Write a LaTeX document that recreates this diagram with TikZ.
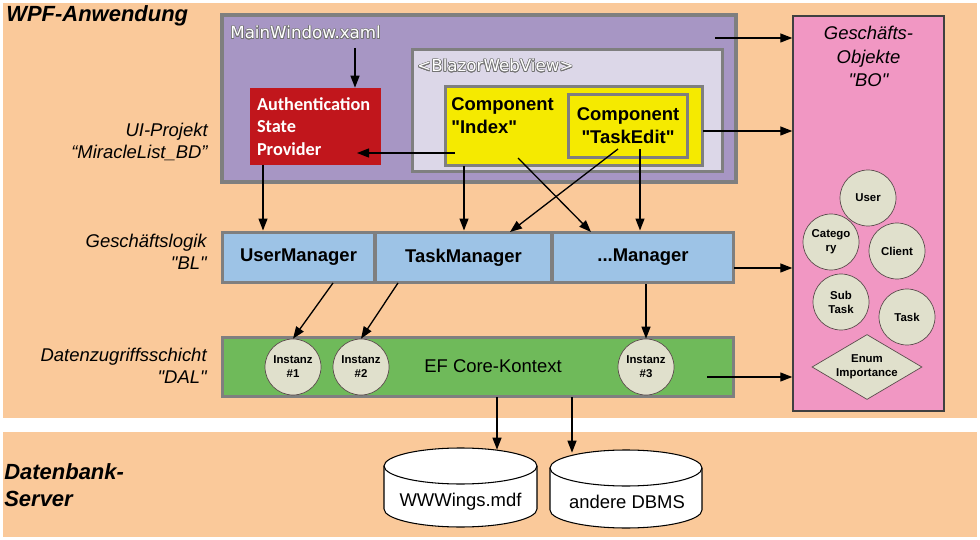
\documentclass[tikz,border=0pt]{standalone}
\usepackage{fontspec}
\setmainfont{Liberation Sans}[Ligatures=TeXOff]
\newfontfamily\uifont{Carlito}
\newfontfamily\xamlfont{DejaVu Sans}[Ligatures=TeXOff]
\usepackage{contour}
\contourlength{0.35pt}
\usetikzlibrary{arrows.meta,shapes.geometric}

\definecolor{peach}{HTML}{FAC99A}
\definecolor{winpurple}{HTML}{A796C4}
\definecolor{viewlilac}{HTML}{DCD7E8}
\definecolor{boxgray}{HTML}{7F7F7F}
\definecolor{compyellow}{HTML}{F5EA00}
\definecolor{authred}{HTML}{C1161C}
\definecolor{mgrblue}{HTML}{9DC3E6}
\definecolor{dalgreen}{HTML}{6FBA5A}
\definecolor{bopink}{HTML}{F197C3}
\definecolor{objfill}{HTML}{E0E0CC}
\definecolor{objline}{HTML}{5C4D4D}

\begin{document}
\begin{tikzpicture}[
  x=0.02cm, y=-0.02cm,
  layer/.style={font=\bfseries\itshape\fontsize{12.5}{14}\selectfont, align=left, anchor=west, inner sep=0pt},
  tierlabel/.style={font=\itshape\fontsize{10.5}{12.5}\selectfont, align=right, anchor=east, inner sep=0pt},
  frame/.style={draw=boxgray, line width=0.6mm, inner sep=0pt},
  xamltext/.style={font=\xamlfont\fontsize{9.5}{11}\selectfont, text=white, anchor=west, inner sep=0pt},
  comp/.style={font=\bfseries\fontsize{10.5}{13}\selectfont, align=left},
  mgr/.style={frame, fill=mgrblue, minimum height=10.2mm, font=\bfseries\fontsize{10.5}{12}\selectfont},
  obj/.style={circle, draw=objline, line width=0.4pt, fill=objfill, minimum size=11.2mm, inner sep=0pt, align=center, font=\bfseries\fontsize{6.5}{8}\selectfont},
  drum/.style={draw=black, fill=white, line width=0.6pt},
  dbtext/.style={font=\fontsize{10.5}{12}\selectfont, inner sep=0pt},
  arr/.style={-{Triangle[length=2.4mm,width=1.8mm]}, line width=0.75pt}
]
\useasboundingbox (0,0) rectangle (980,540);
\fill[white] (0,0) rectangle (980,540);
\fill[peach] (3,3) rectangle (977,418);
\fill[peach] (3,432) rectangle (977,537);

% layer captions
\node[layer] (wpf) at (6,16) {WPF-Anwendung};
\node[layer] (dbsrv) at (4,485) {Datenbank-\\[1pt]Server};
\node[tierlabel] (uiproj) at (208,141.5) {UI-Projekt\\“MiracleList\_BD”};
\node[tierlabel] (bl) at (207,252) {Geschäftslogik\\"BL"};
\node[tierlabel] (dal) at (207,366) {Datenzugriffsschicht\\"DAL"};

% UI project
\node[frame, line width=0.8mm, fill=winpurple, minimum width=102.8mm, minimum height=33.4mm] (mainwin) at (479,98.5) {};
\node[xamltext] (mwtext) at (230,33) {\contour{black!55}{MainWindow.xaml}};
\node[frame, fill=viewlilac, minimum width=62.2mm, minimum height=24.6mm] (blazor) at (567.5,110.5) {};
\node[xamltext] (bvtext) at (417,66) {\contour{black!55}{<BlazorWebView>}};
\node[frame, fill=compyellow, minimum width=51.6mm, minimum height=16mm] (index) at (574,126) {};
\node[comp, anchor=west, inner sep=0pt] (idxtext) at (451,115.5) {Component\\"Index"};
\node[frame, fill=compyellow, comp, align=center, minimum width=24mm, minimum height=12.8mm] (taskedit) at (628,126) {Component\\"TaskEdit"};
\node[fill=authred, text=white, font=\uifont\bfseries\fontsize{10.4}{12.8}\selectfont, align=left,
  text width=23.4mm, inner xsep=1.4mm, inner ysep=0pt, minimum width=26.2mm, minimum height=15.4mm] (auth) at (315.5,126.5)
  {Authentication\\State\\Provider};

% business objects
\node[draw=black!75, line width=0.3mm, fill=bopink, minimum width=30.2mm, minimum height=79mm] (bo) at (868.5,213.5) {};
\node[font=\itshape\fontsize{10.5}{13.3}\selectfont, align=center] (botext) at (868.5,56.5) {Geschäfts-\\Objekte\\"BO"};
\node[obj] (user) at (868,198) {User};
\node[obj] (category) at (831,242) {Catego\\ry};
\node[obj] (client) at (897,251) {Client};
\node[obj] (subtask) at (841,302) {Sub\\Task};
\node[obj] (task) at (907,317) {Task};
\node[diamond, aspect=1.7, draw=objline, line width=0.4pt, fill=objfill, minimum width=22mm, minimum height=13mm, inner sep=0pt, align=center,
  font=\bfseries\fontsize{6.5}{8}\selectfont] (enum) at (867,367) {Enum\\Importance};

% business logic
\node[mgr, minimum width=30.6mm] (usermgr) at (298.5,257.5) {UserManager};
\node[mgr, minimum width=35.4mm] (taskmgr) at (463.5,257.5) {TaskManager};
\node[mgr, minimum width=36.4mm] (moremgr) at (643,257.5) {...Manager};

% data access
\node[frame, fill=dalgreen, minimum width=102.4mm, minimum height=12mm] (dalbox) at (478,367) {};
\node[font=\fontsize{10.5}{12}\selectfont] (eftext) at (493,366) {EF Core-Kontext};
\node[obj] (inst1) at (293,367) {Instanz\\\#1};
\node[obj] (inst2) at (361,367) {Instanz\\\#2};
\node[obj] (inst3) at (646,367) {Instanz\\\#3};

% databases
\draw[drum] (384,466) -- (384,509) arc[start angle=180, end angle=360, x radius=15.3mm, y radius=3.6mm]
  -- (537,466) arc[start angle=0, end angle=180, x radius=15.3mm, y radius=3.6mm] -- cycle;
\draw[drum, fill=none] (384,466) arc[start angle=180, end angle=360, x radius=15.3mm, y radius=3.6mm];
\draw[drum] (550,468) -- (550,510) arc[start angle=180, end angle=360, x radius=15.2mm, y radius=3.6mm]
  -- (702,468) arc[start angle=0, end angle=180, x radius=15.2mm, y radius=3.6mm] -- cycle;
\draw[drum, fill=none] (550,468) arc[start angle=180, end angle=360, x radius=15.2mm, y radius=3.6mm];
\node[dbtext, minimum height=20.8mm] (db1) at (460.5,502) {WWWings.mdf};
\node[dbtext, minimum height=19.6mm] (db2) at (627,502) {andere DBMS};

% connectors
\coordinate (mwin) at (355,48);
\coordinate (idxw) at (455,153);
\coordinate (authin) at (357,153);
\coordinate (mwout) at (715,38);
\coordinate (idxout) at (703,131);
\coordinate (authout) at (263,165);
\coordinate (idxs) at (464,166);
\coordinate (idxx) at (518,158);
\coordinate (moremgrin) at (591,232);
\coordinate (tex) at (618,149);
\coordinate (taskmgrin) at (510,232);
\coordinate (tes) at (640,149);
\coordinate (mgrout) at (734,268);
\coordinate (umout) at (333,283);
\coordinate (tmout) at (398,283);
\coordinate (dalout) at (707,377);
\coordinate (dal1) at (497,397);
\coordinate (dal2) at (572,397);

\draw[arr] (mwin) -- (mwin |- auth.north);
\draw[arr] (idxw) -- (authin);
\draw[arr] (mwout) -- (mwout -| bo.west);
\draw[arr] (idxout) -- (idxout -| bo.west);
\draw[arr] (authout) -- (authout |- usermgr.north);
\draw[arr] (idxs) -- (idxs |- taskmgr.north);
\draw[arr] (idxx) -- (moremgrin);
\draw[arr] (tex) -- (taskmgrin);
\draw[arr] (tes) -- (tes |- moremgr.north);
\draw[arr] (mgrout) -- (mgrout -| bo.west);
\draw[arr] (umout) -- (inst1.north);
\draw[arr] (tmout) -- (inst2.north);
\draw[arr] (inst3.north |- moremgr.south) -- (inst3.north);
\draw[arr] (dalout) -- (dalout -| bo.west);
\draw[arr] (dal1) -- (dal1 |- db1.north);
\draw[arr] (dal2) -- (dal2 |- db2.north);
\end{tikzpicture}
\end{document}
